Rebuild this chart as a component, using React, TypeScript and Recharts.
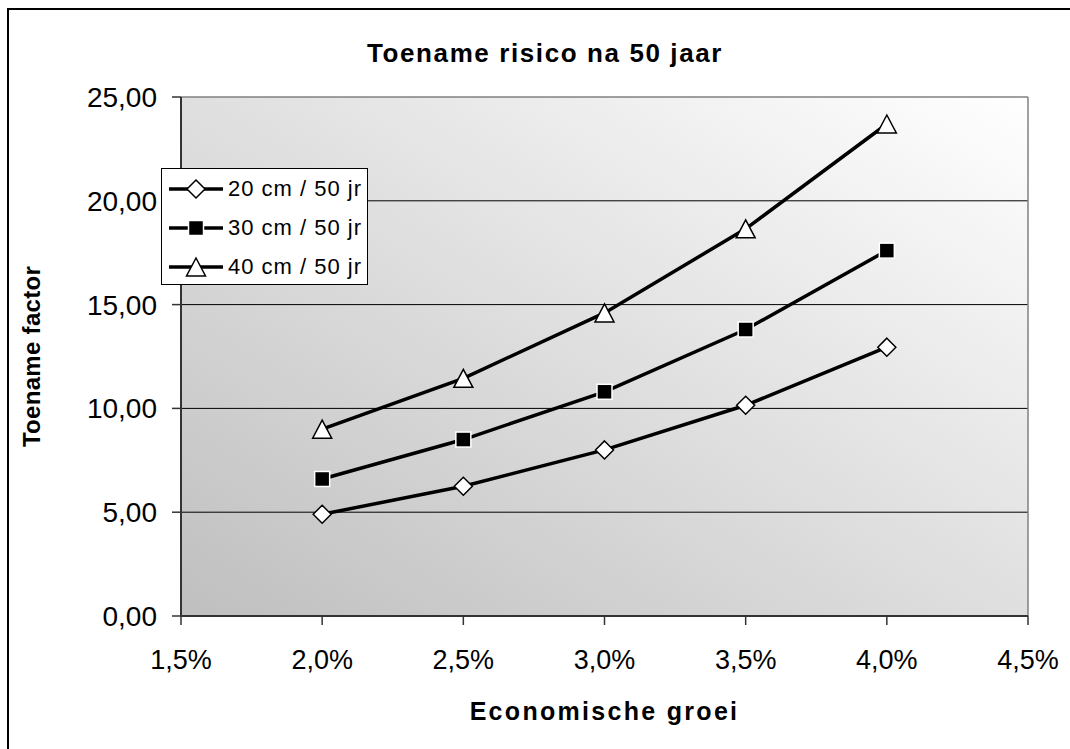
import React from 'react';
import {
  LineChart,
  Line,
  XAxis,
  YAxis,
  ReferenceArea,
  ReferenceLine,
  Label,
} from 'recharts';

// Economic growth rates (%) on the horizontal axis
const groei = [2.0, 2.5, 3.0, 3.5, 4.0];

// Risk increase factor after 50 years, per sea level rise scenario
const stijging20 = [4.9, 6.25, 8.0, 10.15, 12.95];
const stijging30 = [6.6, 8.5, 10.8, 13.8, 17.6];
const stijging40 = [9.0, 11.45, 14.6, 18.65, 23.7];

const xTicks = [1.5, 2.0, 2.5, 3.0, 3.5, 4.0, 4.5];
const yTicks = [0, 5, 10, 15, 20, 25];
const gridValues = [5, 10, 15, 20];

const seriesNames = ['20 cm / 50 jr', '30 cm / 50 jr', '40 cm / 50 jr'];

const data = groei.map((g, i) => ({
  groei: g,
  s20: stijging20[i],
  s30: stijging30[i],
  s40: stijging40[i],
}));

const FONT = '"Liberation Sans", Arial, Helvetica, sans-serif';

type Shape = 'diamond' | 'square' | 'triangle';

function Marker({ shape, cx, cy }: { shape: Shape; cx: number; cy: number }) {
  if (shape === 'diamond') {
    const r = 9;
    return (
      <polygon
        points={`${cx},${cy - r} ${cx + r},${cy} ${cx},${cy + r} ${cx - r},${cy}`}
        fill="#ffffff"
        stroke="#000000"
        strokeWidth={1.5}
      />
    );
  }
  if (shape === 'square') {
    const h = 7.5;
    return (
      <rect
        x={cx - h}
        y={cy - h}
        width={h * 2}
        height={h * 2}
        fill="#000000"
        stroke="#ffffff"
        strokeWidth={1.5}
      />
    );
  }
  const w = 9.5;
  const hh = 9;
  return (
    <polygon
      points={`${cx},${cy - hh} ${cx + w},${cy + hh} ${cx - w},${cy + hh}`}
      fill="#ffffff"
      stroke="#000000"
      strokeWidth={1.5}
    />
  );
}

const makeDot = (shape: Shape) => (props: any) => {
  const { cx, cy, index } = props;
  if (cx == null || cy == null) return <g key={`${shape}-${index}`} />;
  return (
    <g key={`${shape}-${index}`}>
      <Marker shape={shape} cx={cx} cy={cy} />
    </g>
  );
};

const shapes: Shape[] = ['diamond', 'square', 'triangle'];

function LegendBox() {
  return (
    <div
      style={{
        position: 'absolute',
        left: 161,
        top: 168,
        width: 207,
        height: 117,
        boxSizing: 'border-box',
        border: '1.5px solid #000',
        background: '#ffffff',
        fontFamily: FONT,
        fontSize: 22,
        letterSpacing: 1,
        color: '#000',
      }}
    >
      {seriesNames.map((name, i) => (
        <div
          key={name}
          style={{
            position: 'absolute',
            left: 0,
            top: 1 + i * 39,
            height: 38,
            display: 'flex',
            alignItems: 'center',
            whiteSpace: 'nowrap',
          }}
        >
          <svg width={66} height={38} style={{ display: 'block' }}>
            <line x1={7} y1={19} x2={61} y2={19} stroke="#000" strokeWidth={3.5} />
            <Marker shape={shapes[i]} cx={34} cy={19} />
          </svg>
          <span>{name}</span>
        </div>
      ))}
    </div>
  );
}

export default function App() {
  return (
    <div style={{ position: 'fixed', left: 0, top: 0, width: 1070, height: 749, background: '#fff', overflow: 'hidden' }}>
      <svg width={0} height={0} style={{ position: 'absolute' }}>
        <defs>
          <linearGradient id="plotBg" x1="0" y1="1" x2="1" y2="0">
            <stop offset="0%" stopColor="#bfbfbf" />
            <stop offset="100%" stopColor="#ffffff" />
          </linearGradient>
        </defs>
      </svg>
      <div
        style={{
          position: 'absolute',
          left: 7,
          top: 8,
          width: 1100,
          height: 800,
          border: '2px solid #000',
          boxSizing: 'border-box',
        }}
      />
      <div style={{ position: 'absolute', left: 0, top: 0 }}>
        <LineChart
          width={1070}
          height={749}
          data={data}
          margin={{ top: 97, right: 42, left: 21, bottom: 29 }}
        >
          <ReferenceArea x1={1.5} x2={4.5} y1={0} y2={25} fill="url(#plotBg)" fillOpacity={1} stroke="none" />
          {gridValues.map((v) => (
            <ReferenceLine key={v} y={v} stroke="#000" strokeWidth={1} />
          ))}
          <ReferenceLine y={25} stroke="#808080" strokeWidth={1.5} />
          <ReferenceLine x={4.5} stroke="#808080" strokeWidth={1.5} />
          <XAxis
            dataKey="groei"
            type="number"
            domain={[1.5, 4.5]}
            ticks={xTicks}
            interval={0}
            height={104}
            tickSize={9}
            tickMargin={25}
            tickFormatter={(v: number) => v.toFixed(1).replace('.', ',') + '%'}
            tick={{ fill: '#000', fontSize: 27, fontFamily: FONT }}
            axisLine={{ stroke: '#333', strokeWidth: 2 }}
            tickLine={{ stroke: '#333', strokeWidth: 1.5 }}
          >
            <Label
              value="Economische groei"
              position="insideBottom"
              offset={0}
              style={{ fontFamily: FONT, fontSize: 25, fontWeight: 'bold', fill: '#000', letterSpacing: 2.3 }}
            />
          </XAxis>
          <YAxis
            type="number"
            domain={[0, 25]}
            ticks={yTicks}
            interval={0}
            width={160}
            tickSize={9}
            tickMargin={15}
            tickFormatter={(v: number) => v.toFixed(2).replace('.', ',')}
            tick={{ fill: '#000', fontSize: 28, fontFamily: FONT }}
            axisLine={{ stroke: '#333', strokeWidth: 2 }}
            tickLine={{ stroke: '#333', strokeWidth: 1.5 }}
          >
            <Label
              value="Toename factor"
              angle={-90}
              position="insideLeft"
              offset={10}
              style={{ textAnchor: 'middle', fontFamily: FONT, fontSize: 24, fontWeight: 'bold', fill: '#000', letterSpacing: 0.3 }}
            />
          </YAxis>
          <Line
            dataKey="s20"
            name={seriesNames[0]}
            stroke="#000"
            strokeWidth={3.5}
            dot={makeDot('diamond')}
            activeDot={false}
            isAnimationActive={false}
          />
          <Line
            dataKey="s30"
            name={seriesNames[1]}
            stroke="#000"
            strokeWidth={3.5}
            dot={makeDot('square')}
            activeDot={false}
            isAnimationActive={false}
          />
          <Line
            dataKey="s40"
            name={seriesNames[2]}
            stroke="#000"
            strokeWidth={3.5}
            dot={makeDot('triangle')}
            activeDot={false}
            isAnimationActive={false}
          />
        </LineChart>
      </div>
      <LegendBox />
      <svg
        width={1070}
        height={749}
        style={{ position: 'absolute', left: 0, top: 0, pointerEvents: 'none' }}
      >
        <text
          x={545}
          y={62}
          textAnchor="middle"
          fontFamily={FONT}
          fontSize={26}
          fontWeight="bold"
          letterSpacing={1.6}
          fill="#000"
        >
          Toename risico na 50 jaar
        </text>
      </svg>
    </div>
  );
}
